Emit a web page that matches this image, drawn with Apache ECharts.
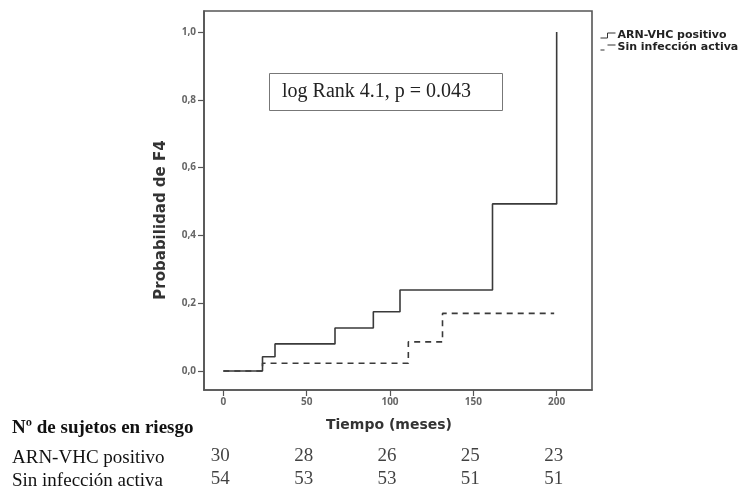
<!DOCTYPE html>
<html><head><meta charset="utf-8">
<script src="https://cdn.jsdelivr.net/npm/echarts@6/dist/echarts.min.js"></script>
<style>html,body{margin:0;padding:0;background:#fff}#c{width:741px;height:490px}</style>
</head><body><div id="c"></div>
<script>
// Data
const seriesNames = ['ARN-VHC positivo', 'Sin infección activa'];
const positivoTimes = [0, 23.5, 31, 67, 90, 106, 161.5, 200];
const positivoProb  = [0, 0.042, 0.08, 0.127, 0.175, 0.239, 0.493, 1.0];
const sinTimes = [0, 23.5, 111, 131.5, 198.5];
const sinProb  = [0, 0.023, 0.086, 0.17, 0.17];
const xTicks = [0, 50, 100, 150, 200];
const yTicks = [0, 0.2, 0.4, 0.6, 0.8, 1.0];
const riskTimes = [0, 50, 100, 150, 200];
const riskPositivo = [30, 28, 26, 25, 23];
const riskSin = [54, 53, 53, 51, 51];
const annotation = 'log Rank 4.1, p = 0.043';
const riskTitle = 'Nº de sujetos en riesgo';
const xAxisTitle = 'Tiempo (meses)';
const yAxisTitle = 'Probabilidad de F4';

const pairs = (xs, ys) => xs.map((x, i) => [x, ys[i]]);
const lineColor = '#3a3a3a';
const xMin = -11.6, xMax = 221.2;
const sansB = '"DejaVu Sans"';

const chart = echarts.init(document.getElementById('c'), null, {renderer: 'canvas'});
chart.setOption({
  animation: false,
  backgroundColor: '#fff',
  grid: [
    {left: 204, right: 149, top: 11, bottom: 100, show: true, borderColor: '#555', borderWidth: 1.6, backgroundColor: 'transparent'},
    {left: 201, right: 152, top: 445, height: 48, show: false}
  ],
  xAxis: [{
    gridIndex: 0, type: 'value', min: xMin, max: xMax,
    splitLine: {show: false},
    axisLine: {show: true, onZero: false, lineStyle: {color: '#555', width: 1.6}},
    axisTick: {show: true, length: 6, customValues: xTicks, lineStyle: {color: '#555', width: 1.2}},
    axisLabel: {customValues: xTicks, fontSize: 10, fontWeight: 'bold', color: '#666', fontFamily: 'Open Sans', margin: 7}
  }, {
    gridIndex: 1, type: 'value', min: xMin, max: xMax, show: false
  }],
  yAxis: [{
    gridIndex: 0, type: 'value', min: -0.056, max: 1.062,
    splitLine: {show: false},
    axisLine: {show: true, onZero: false, lineStyle: {color: '#555', width: 1.6}},
    axisTick: {show: true, length: 6, customValues: yTicks, lineStyle: {color: '#555', width: 1.2}},
    axisLabel: {customValues: yTicks, fontSize: 10, fontWeight: 'bold', color: '#666', fontFamily: 'Open Sans', margin: 8,
      formatter: v => v.toFixed(1).replace('.', ',')}
  }, {
    gridIndex: 1, type: 'value', min: 0, max: 2, show: false
  }],
  legend: {
    orient: 'vertical', left: 600, top: 30, itemGap: 1, itemWidth: 15, itemHeight: 5, padding: 0,
    textStyle: {fontFamily: 'DejaVu Sans', fontWeight: 'bold', fontSize: 11, color: '#222', padding: [0,0,0,-3]},
    data: [
      {name: seriesNames[0], icon: 'path://M0,5 L7,5 L7,0 L15,0', itemStyle: {color: 'transparent', borderColor: '#333', borderWidth: 1}},
      {name: seriesNames[1], icon: 'path://M0,5 L4,5 M7,0 L15,0', itemStyle: {color: 'transparent', borderColor: '#333', borderWidth: 1}}
    ]
  },
  series: [
    {name: seriesNames[1], type: 'line', xAxisIndex: 0, yAxisIndex: 0, step: 'end', showSymbol: false, symbol: 'none',
     data: pairs(sinTimes, sinProb), lineStyle: {color: lineColor, width: 1.6, type: [6, 5]}, itemStyle: {color: lineColor}, z: 2},
    {name: seriesNames[0], type: 'line', xAxisIndex: 0, yAxisIndex: 0, step: 'end', showSymbol: false, symbol: 'none',
     data: pairs(positivoTimes, positivoProb), lineStyle: {color: lineColor, width: 1.6}, itemStyle: {color: lineColor}, z: 3},
    {type: 'scatter', xAxisIndex: 1, yAxisIndex: 1, symbolSize: 0, silent: true,
     data: riskTimes.map((t, i) => [t, 1.5, riskPositivo[i]]),
     label: {show: true, position: 'inside', formatter: p => p.value[2], fontFamily: 'Liberation Serif', fontSize: 19, color: '#111'}},
    {type: 'scatter', xAxisIndex: 1, yAxisIndex: 1, symbolSize: 0, silent: true,
     data: riskTimes.map((t, i) => [t, 0.5, riskSin[i]]),
     label: {show: true, position: 'inside', formatter: p => p.value[2], fontFamily: 'Liberation Serif', fontSize: 19, color: '#111'}}
  ],
  graphic: [
    {type: 'rect', left: 269, top: 73, shape: {width: 233, height: 37}, style: {fill: '#fff', stroke: '#777', lineWidth: 1}, z: 10},
    {type: 'text', x: 282, y: 92, style: {text: annotation, font: '20px "Liberation Serif"', fill: '#222', verticalAlign: 'middle'}, z: 11},
    {type: 'text', x: 389, y: 425, style: {text: xAxisTitle, font: 'bold 14px ' + sansB, fill: '#333', align: 'center', verticalAlign: 'middle'}},
    {type: 'text', x: 161, y: 220, rotation: Math.PI / 2, style: {text: yAxisTitle, font: 'bold 15px ' + sansB, fill: '#333', align: 'center', verticalAlign: 'middle'}},
    {type: 'text', x: 12, y: 428, style: {text: riskTitle, font: 'bold 19px "Liberation Serif"', fill: '#111', verticalAlign: 'middle'}},
    {type: 'text', x: 12, y: 458, style: {text: seriesNames[0], font: '19px "Liberation Serif"', fill: '#111', verticalAlign: 'middle'}},
    {type: 'text', x: 12, y: 481, style: {text: seriesNames[1], font: '19px "Liberation Serif"', fill: '#111', verticalAlign: 'middle'}}
  ]
});
</script></body></html>
